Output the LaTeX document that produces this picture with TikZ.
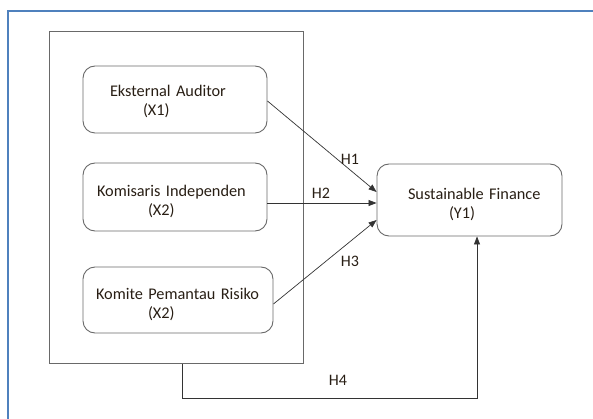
\documentclass[tikz,border=0pt]{standalone}
\usepackage{fontspec}
\setmainfont{Carlito}
\usetikzlibrary{arrows.meta, positioning}
\definecolor{framegray}{RGB}{105,105,105}
\definecolor{borderblue}{RGB}{79,129,189}
\definecolor{txtdark}{RGB}{40,30,20}

\begin{document}
\begin{tikzpicture}[x=1pt, y=-1pt,
  varbox/.style={draw=framegray, line width=0.9pt, rounded corners=12pt, align=left,
    inner xsep=0pt, inner ysep=0pt, font=\fontsize{16.3}{19}\selectfont, text=txtdark},
  link/.style={-{Triangle[length=8pt,width=6pt]}, line width=0.7pt, black!80},
  hlabel/.style={font=\fontsize{16}{19}\selectfont, text=txtdark}]

  \useasboundingbox (0,0) rectangle (593,419);

  % page border
  \draw[borderblue, line width=2pt] (8,420) -- (8,11) -- (594,11);

  % group frame
  \node[draw=framegray, line width=1pt, minimum width=254pt, minimum height=331pt] (grp) at (176,197.5) {};

  % independent variables
  \node[varbox, text width=184pt, minimum height=67pt] (x1) at (175,99.5) {
    \rule{0pt}{16pt}\hspace*{27pt}Eksternal Auditor\\\hspace*{60pt}(X1)
  };
  \node[varbox, text width=184pt, minimum height=68pt] (x2) at (175,197) {
    \rule{0pt}{21pt}\hspace*{14pt}Komisaris Independen\\\hspace*{65pt}(X2)
  };
  \node[varbox, text width=190pt, minimum height=66pt] (x3) at (178,300) {
    \rule{0pt}{21pt}\hspace*{13pt}Komite Pemantau Risiko\\\hspace*{65pt}(X2)
  };

  % dependent variable
  \node[varbox, text width=185pt, minimum height=72pt] (y1) at (469.5,200) {
    \rule{0pt}{20pt}\hspace*{31pt}Sustainable Finance\\\hspace*{72pt}(Y1)
  };

  % hypotheses
  \draw[link] ([yshift=-1.5pt]x1.east) -- ([yshift=8pt]y1.west);
  \draw[link] ([yshift=-6pt]x2.east) -- ([yshift=-6pt]x2.east -| y1.west);
  \draw[link] ([yshift=-4pt]x3.east) -- ([yshift=-20pt]y1.west);
  \draw[link] ([xshift=6pt]grp.south) -- ++(0,35) -| ([xshift=7.5pt]y1.south);

  \node[hlabel] (h1) at (350,159) {H1};
  \node[hlabel] (h2) at (321,193) {H2};
  \node[hlabel] (h3) at (350,261) {H3};
  \node[hlabel] (h4) at (338,380) {H4};
\end{tikzpicture}
\end{document}
